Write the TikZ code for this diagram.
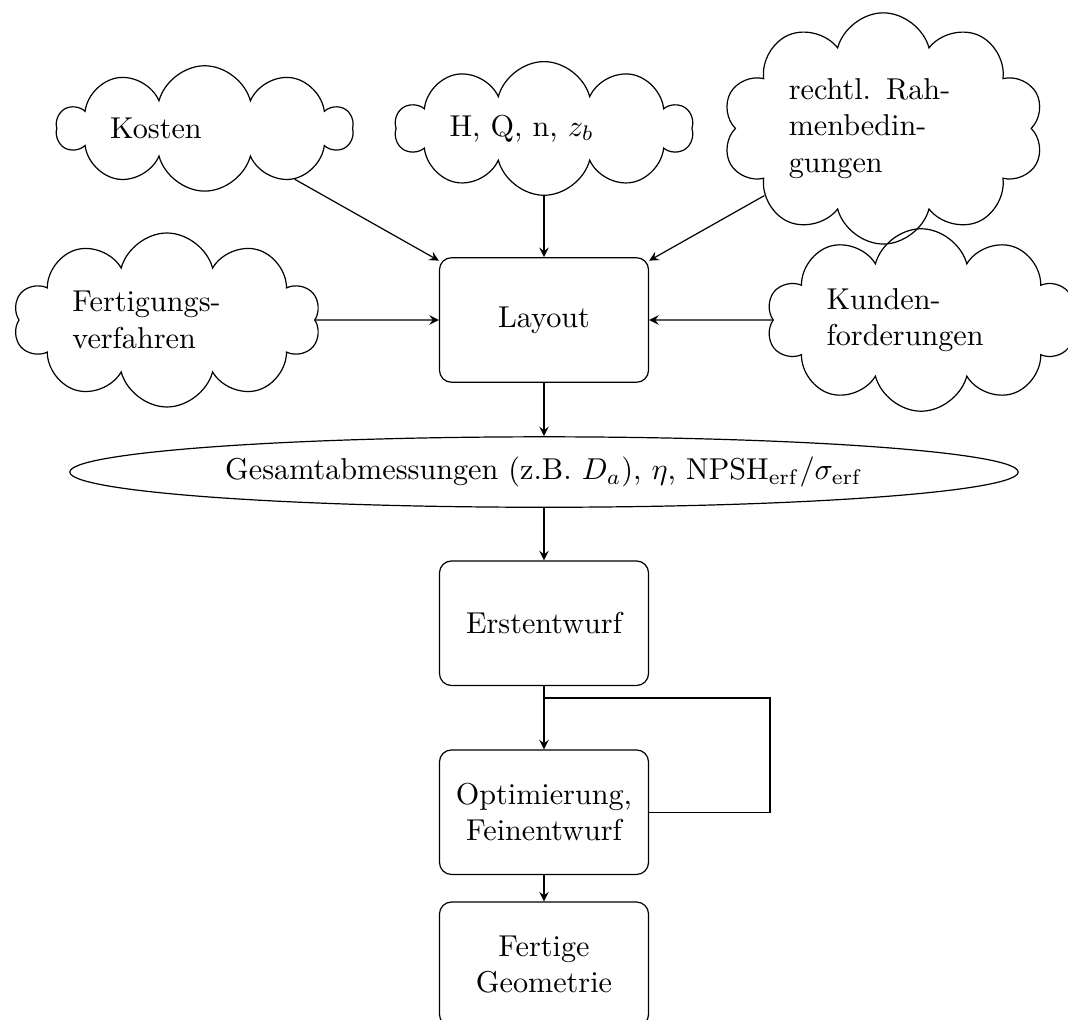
\documentclass[tikz,border=0pt]{standalone}
\usepackage{tikz}
\usetikzlibrary{shapes.geometric, shapes.symbols, arrows}
\usetikzlibrary{positioning,calc}

\begin{document}
\begin{tikzpicture}[node distance=1.76cm]
	%defines
	\tikzstyle{schritt}	= [rectangle, rounded corners, text width=2.2cm, minimum height=1.45cm, align=center, draw=black]
	\tikzstyle{einfluss}	= [cloud, cloud puffs=10, cloud ignores aspect, text width=2.2cm, align=left, draw=black]
	\tikzstyle{ergebnis}	= [ellipse, minimum width=11.04cm, minimum height=0.82cm, inner sep=0pt, draw=black]
	\tikzstyle{arrow} = [->,>=stealth]
	\useasboundingbox (-6.333,-8.149) rectangle (6.10,3.725);
	%chart
	\node (layout) [schritt] {Layout};
	\node (kosten) [einfluss] at (-3.95,2.23) {Kosten};
	\node (hqn) [einfluss] at (0,2.23) {H, Q, n, $z_b$};
	\node (recht) [einfluss] at (3.95,2.23) {rechtl. Rah\-menbedin\-gungen};
	\node (fertigung) [einfluss] at (-4.39,0) {Fertigungs\-verfahren};
	\node (kunde) [einfluss] at (4.39,0) {Kunden\-forderungen};
	\node (gesamt) [ergebnis, below of=layout, node distance=1.77cm] {Gesamtabmessungen (z.B. $D_a$), $\eta$, NPSH$_\mathrm{erf}/\sigma_\mathrm{erf}$};
	\node (erst) [schritt, below of=gesamt] {Erstentwurf};
	\node (opt) [schritt, below of=erst, node distance=2.2cm] {Optimierung, Feinentwurf};
	\node (fertig) [schritt, below of=opt, node distance=1.77cm] {Fertige Geometrie};
	\coordinate (rueck) at (2.63,-4.40);
	\draw [arrow] (kosten) -- (layout);
	\draw [arrow] (hqn) -- (layout);
	\draw [arrow] (recht) -- (layout);
	\draw [arrow] (fertigung) -- (layout);
	\draw [arrow] (kunde) -- (layout);
	\draw [arrow] (layout) -- (gesamt);
	\draw [arrow] (gesamt) -- (erst);
	\draw [arrow] (erst) -- (opt);
	\draw [arrow] (opt) -- (fertig);
	\draw (opt.east) -| (rueck) -- (rueck -| erst.south);
\end{tikzpicture}
\end{document}
